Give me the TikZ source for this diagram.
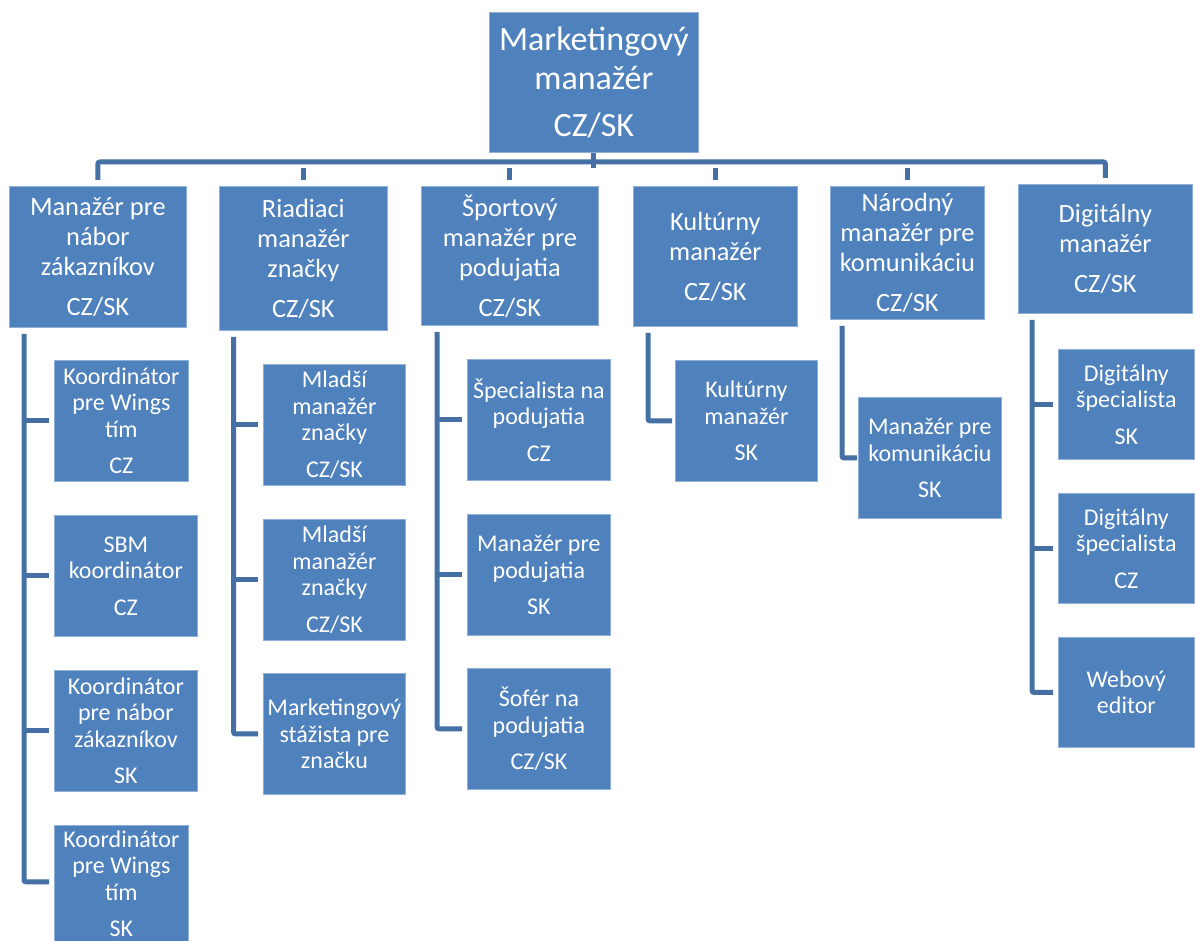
\documentclass[tikz,border=0pt]{standalone}
\usepackage{fontspec}
\setmainfont{Carlito}
\definecolor{boxblue}{HTML}{4F81BD}
\definecolor{boxedge}{HTML}{8FAED8}
\definecolor{connblue}{HTML}{4470A6}
\newcommand\fTop{\fontsize{34}{39}\selectfont}
\newcommand\fMid{\fontsize{26.4}{30}\selectfont}
\newcommand\fLow{\fontsize{24}{26.5}\selectfont}
\tikzset{
  box/.style={rectangle, fill=boxblue, draw=boxedge, line width=0.8pt, text=white,
    align=center, inner sep=0pt, anchor=north west},
  topbox/.style={box, font=\fTop},
  midbox/.style={box, font=\fMid},
  lowbox/.style={box, font=\fLow, minimum width=143pt, minimum height=121pt},
  conn/.style={draw=connblue, line width=5pt, rounded corners=2pt}
}
\begin{document}
\begin{tikzpicture}[x=1pt,y=1pt]
\useasboundingbox (0,0) rectangle (1195,-941);
% top
\node[topbox, minimum width=209pt, minimum height=140pt] (top) at (489,-12) {Marketingový\\manažér\\[8pt]CZ/SK};
% level 1
\node[midbox, minimum width=177pt, minimum height=141pt] (b1) at (9,-186) {Manažér pre\\nábor\\zákazníkov\\[10pt]CZ/SK};
\node[midbox, minimum width=168pt, minimum height=144pt] (b2) at (219,-186) {Riadiaci\\manažér\\značky\\[10pt]CZ/SK};
\node[midbox, minimum width=177pt, minimum height=139pt] (b3) at (421,-186) {Športový\\manažér pre\\podujatia\\[10pt]CZ/SK};
\node[midbox, minimum width=164pt, minimum height=140pt] (b4) at (633,-186) {Kultúrny\\manažér\\[10pt]CZ/SK};
\node[midbox, minimum width=154pt, minimum height=133pt] (b5) at (830,-186) {Národný\\manažér pre\\komunikáciu\\[10pt]CZ/SK};
\node[midbox, minimum width=174pt, minimum height=129pt] (b6) at (1018,-184) {Digitálny\\manažér\\[10pt]CZ/SK};
% level 2, column 1
\node[lowbox, minimum width=134pt] (c1a) at (54,-360) {Koordinátor\\pre Wings\\tím\\[10pt]CZ};
\node[lowbox] (c1b) at (54,-515) {SBM\\koordinátor\\[10pt]CZ};
\node[lowbox] (c1c) at (54,-670) {Koordinátor\\pre nábor\\zákazníkov\\[10pt]SK};
\node[lowbox, minimum width=134pt, minimum height=117pt] (c1d) at (54,-825) {Koordinátor\\pre Wings\\tím\\[10pt]SK};
% column 2
\node[lowbox, minimum width=142pt] (c2a) at (263,-364) {Mladší\\manažér\\značky\\[10pt]CZ/SK};
\node[lowbox, minimum width=142pt] (c2b) at (263,-519) {Mladší\\manažér\\značky\\[10pt]CZ/SK};
\node[lowbox, minimum width=142pt] (c2c) at (263,-673) {Marketingový\\stážista pre\\značku};
% column 3
\node[lowbox] (c3a) at (467,-359) {Špecialista na\\podujatia\\[10pt]CZ};
\node[lowbox] (c3b) at (467,-514) {Manažér pre\\podujatia\\[10pt]SK};
\node[lowbox] (c3c) at (467,-668) {Šofér na\\podujatia\\[10pt]CZ/SK};
% column 4
\node[lowbox, minimum width=142pt] (c4a) at (675,-360) {Kultúrny\\manažér\\[10pt]SK};
% column 5
\node[lowbox] (c5a) at (858,-397) {Manažér pre\\komunikáciu\\[10pt]SK};
% column 6
\node[lowbox, minimum width=136pt, minimum height=110pt] (c6a) at (1058,-349) {Digitálny\\špecialista\\[10pt]SK};
\node[lowbox, minimum width=136pt, minimum height=110pt] (c6b) at (1058,-493) {Digitálny\\špecialista\\[10pt]CZ};
\node[lowbox, minimum width=136pt, minimum height=110pt] (c6c) at (1058,-637) {Webový\\editor};
% bus
\coordinate (bus) at (0,-168);
\draw[conn] (top.south) -- (top.south |- bus);
\draw[conn] ([yshift=6pt]b1.north) |- ([yshift=6pt]b6.north |- bus) -- ([yshift=6pt]b6.north);
\foreach \b in {b2,b3,b4,b5}
  \draw[conn, rounded corners=0pt] ([yshift=6pt]\b.north) -- (\b.north |- bus);
% spines
\coordinate (s1) at ([xshift=15pt,yshift=-6pt]b1.south west);
\coordinate (s2) at ([xshift=14.5pt,yshift=-6pt]b2.south west);
\coordinate (s3) at ([xshift=16pt,yshift=-6pt]b3.south west);
\coordinate (s4) at ([xshift=15pt,yshift=-6pt]b4.south west);
\coordinate (s5) at ([xshift=12pt,yshift=-6pt]b5.south west);
\coordinate (s6) at ([xshift=14pt,yshift=-6pt]b6.south west);
\draw[conn] (s1) |- ([xshift=-5pt,yshift=2pt]c1d.west);
\foreach \c in {c1a,c1b,c1c}
  \draw[conn, rounded corners=0pt] (s1 |- \c.west) -- ([xshift=-5pt]\c.west);
\draw[conn] (s2) |- ([xshift=-5pt]c2c.west);
\foreach \c in {c2a,c2b}
  \draw[conn, rounded corners=0pt] (s2 |- \c.west) -- ([xshift=-5pt]\c.west);
\draw[conn] (s3) |- ([xshift=-5pt]c3c.west);
\foreach \c in {c3a,c3b}
  \draw[conn, rounded corners=0pt] (s3 |- \c.west) -- ([xshift=-5pt]\c.west);
\draw[conn] (s4) |- ([xshift=-3pt]c4a.west);
\draw[conn] (s5) |- ([xshift=-1pt]c5a.west);
\draw[conn] (s6) |- ([xshift=-5pt]c6c.west);
\foreach \c in {c6a,c6b}
  \draw[conn, rounded corners=0pt] (s6 |- \c.west) -- ([xshift=-5pt]\c.west);
\end{tikzpicture}
\end{document}
